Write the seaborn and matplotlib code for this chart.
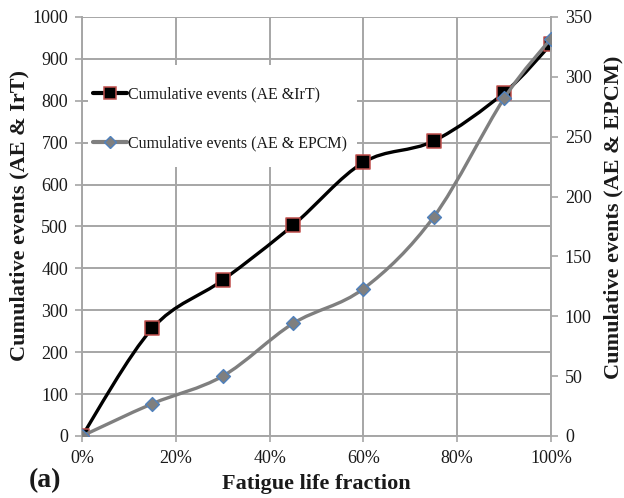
import numpy as np
import pandas as pd
import matplotlib
matplotlib.use("Agg")
import matplotlib.pyplot as plt
from matplotlib.path import Path
from matplotlib.patches import PathPatch, Rectangle
from matplotlib.lines import Line2D
import seaborn as sns

# ---- data ----
life_fraction = [0.00, 0.15, 0.30, 0.45, 0.60, 0.75, 0.90, 1.00]
events_ae_irt = [0, 257, 372, 503, 653, 704, 819, 935]
events_ae_epcm = [0, 27, 50, 94, 123, 183, 282, 332]
x_ticks = [0.0, 0.2, 0.4, 0.6, 0.8, 1.0]
x_tick_labels = ["0%", "20%", "40%", "60%", "80%", "100%"]
left_ticks = list(range(0, 1001, 100))
right_ticks = list(range(0, 351, 50))
label_irt = "Cumulative events (AE &IrT)"
label_epcm = "Cumulative events (AE & EPCM)"

sns.set_theme(style="white")
plt.rcParams["font.family"] = ["Liberation Serif", "DejaVu Serif"]

GRID = "#a6a6a6"
BLACK_LINE = "#000000"
GRAY_LINE = "#7f7f7f"
TXT = "#1a1a1a"


def smooth_path(xs, ys):
    """Excel-style smoothed line as cubic Bezier path (control points from neighbours)."""
    pts = np.column_stack([xs, ys]).astype(float)
    n = len(pts)
    verts = [tuple(pts[0])]
    codes = [Path.MOVETO]
    for i in range(n - 1):
        p0 = pts[i - 1] if i > 0 else pts[i]
        p1 = pts[i]
        p2 = pts[i + 1]
        p3 = pts[i + 2] if i + 2 < n else pts[i + 1]
        c1 = p1 + (p2 - p0) / 6.0
        c2 = p2 - (p3 - p1) / 6.0
        verts += [tuple(c1), tuple(c2), tuple(p2)]
        codes += [Path.CURVE4] * 3
    return Path(verts, codes)


fig = plt.figure(figsize=(6.24, 4.98), dpi=100)
ax = fig.add_axes([0.1314, 0.1245, 0.7516, 0.8414])
ax2 = ax.twinx()

df1 = pd.DataFrame({"x": life_fraction, "y": events_ae_irt})
df2 = pd.DataFrame({"x": life_fraction, "y": events_ae_epcm})

# black series (left axis)
ax.add_patch(PathPatch(smooth_path(df1["x"], df1["y"]), facecolor="none",
                       edgecolor=BLACK_LINE, lw=2.4, zorder=3, capstyle="round"))
sns.scatterplot(data=df1, x="x", y="y", ax=ax, marker="s", s=100,
                color="black", edgecolor="#c0504d", linewidth=1.1, zorder=4, legend=False)

# gray series (right axis)
ax2.add_patch(PathPatch(smooth_path(df2["x"], df2["y"]), facecolor="none",
                        edgecolor=GRAY_LINE, lw=2.4, zorder=3, capstyle="round"))
sns.scatterplot(data=df2, x="x", y="y", ax=ax2, marker="D", s=50,
                color="#7f7f7f", edgecolor="#4f81bd", linewidth=1.0, zorder=4, legend=False)

# axes limits & ticks
ax.set_xlim(0, 1)
ax.set_ylim(0, 1000)
ax2.set_ylim(0, 350)
ax.set_xticks(x_ticks)
ax.set_xticklabels(x_tick_labels)
ax.set_yticks(left_ticks)
ax2.set_yticks(right_ticks)

ax.grid(True, color=GRID, lw=1.4)
ax.set_axisbelow(True)
ax2.grid(False)

for a in (ax, ax2):
    for s in a.spines.values():
        s.set_visible(False)
for sp in (ax.spines["left"], ax.spines["bottom"], ax2.spines["right"]):
    sp.set_visible(True)
    sp.set_color(GRID)
    sp.set_linewidth(1.4)

ax.tick_params(axis="y", left=True, length=5, width=1.2, color=GRID, pad=5,
               labelsize=13, labelcolor=TXT)
ax.tick_params(axis="x", bottom=True, length=4, width=1.2, color=GRID, pad=6,
               labelsize=13, labelcolor=TXT)
ax2.tick_params(axis="y", right=True, length=5, width=1.2, color=GRID, pad=5,
                labelsize=13, labelcolor=TXT)

ax.set_xlabel("Fatigue life fraction", fontsize=16, fontweight="bold", color=TXT)
ax.set_ylabel("Cumulative events (AE & IrT)", fontsize=16, fontweight="bold", color=TXT)
ax2.set_ylabel("Cumulative events (AE & EPCM)", fontsize=16, fontweight="bold", color=TXT)
ax.xaxis.set_label_coords(0.5, -0.091)
ax.yaxis.set_label_coords(-0.111, 0.527)
ax2.yaxis.set_label_coords(1.111, 0.522)

fig.text(0.046, 0.021, "(a)", fontsize=20, fontweight="bold", ha="left",
         va="baseline", color=TXT)

# white legend background hiding the gridlines
ax.add_patch(Rectangle((88 / 624, 1 - 167 / 498), (357 - 88) / 624, (167 - 65) / 498,
                       transform=fig.transFigure, facecolor="white", edgecolor="none",
                       zorder=2))

handles = [
    Line2D([], [], color=BLACK_LINE, lw=3.0, marker="s", markersize=8,
           markerfacecolor="black", markeredgecolor="#c0504d", markeredgewidth=1.1),
    Line2D([], [], color=GRAY_LINE, lw=3.0, marker="D", markersize=6,
           markerfacecolor="#7f7f7f", markeredgecolor="#4f81bd", markeredgewidth=1.0),
]
leg = ax2.legend(handles, [label_irt, label_epcm], loc="upper left",
                 bbox_to_anchor=(0.149, 0.827), bbox_transform=fig.transFigure,
                 frameon=False, fontsize=11.5, handlelength=2.1, handletextpad=0.12,
                 labelspacing=2.1, borderpad=0, borderaxespad=0)
for t in leg.get_texts():
    t.set_color(TXT)
leg.set_zorder(10)

fig.savefig("out.png", dpi=100)
